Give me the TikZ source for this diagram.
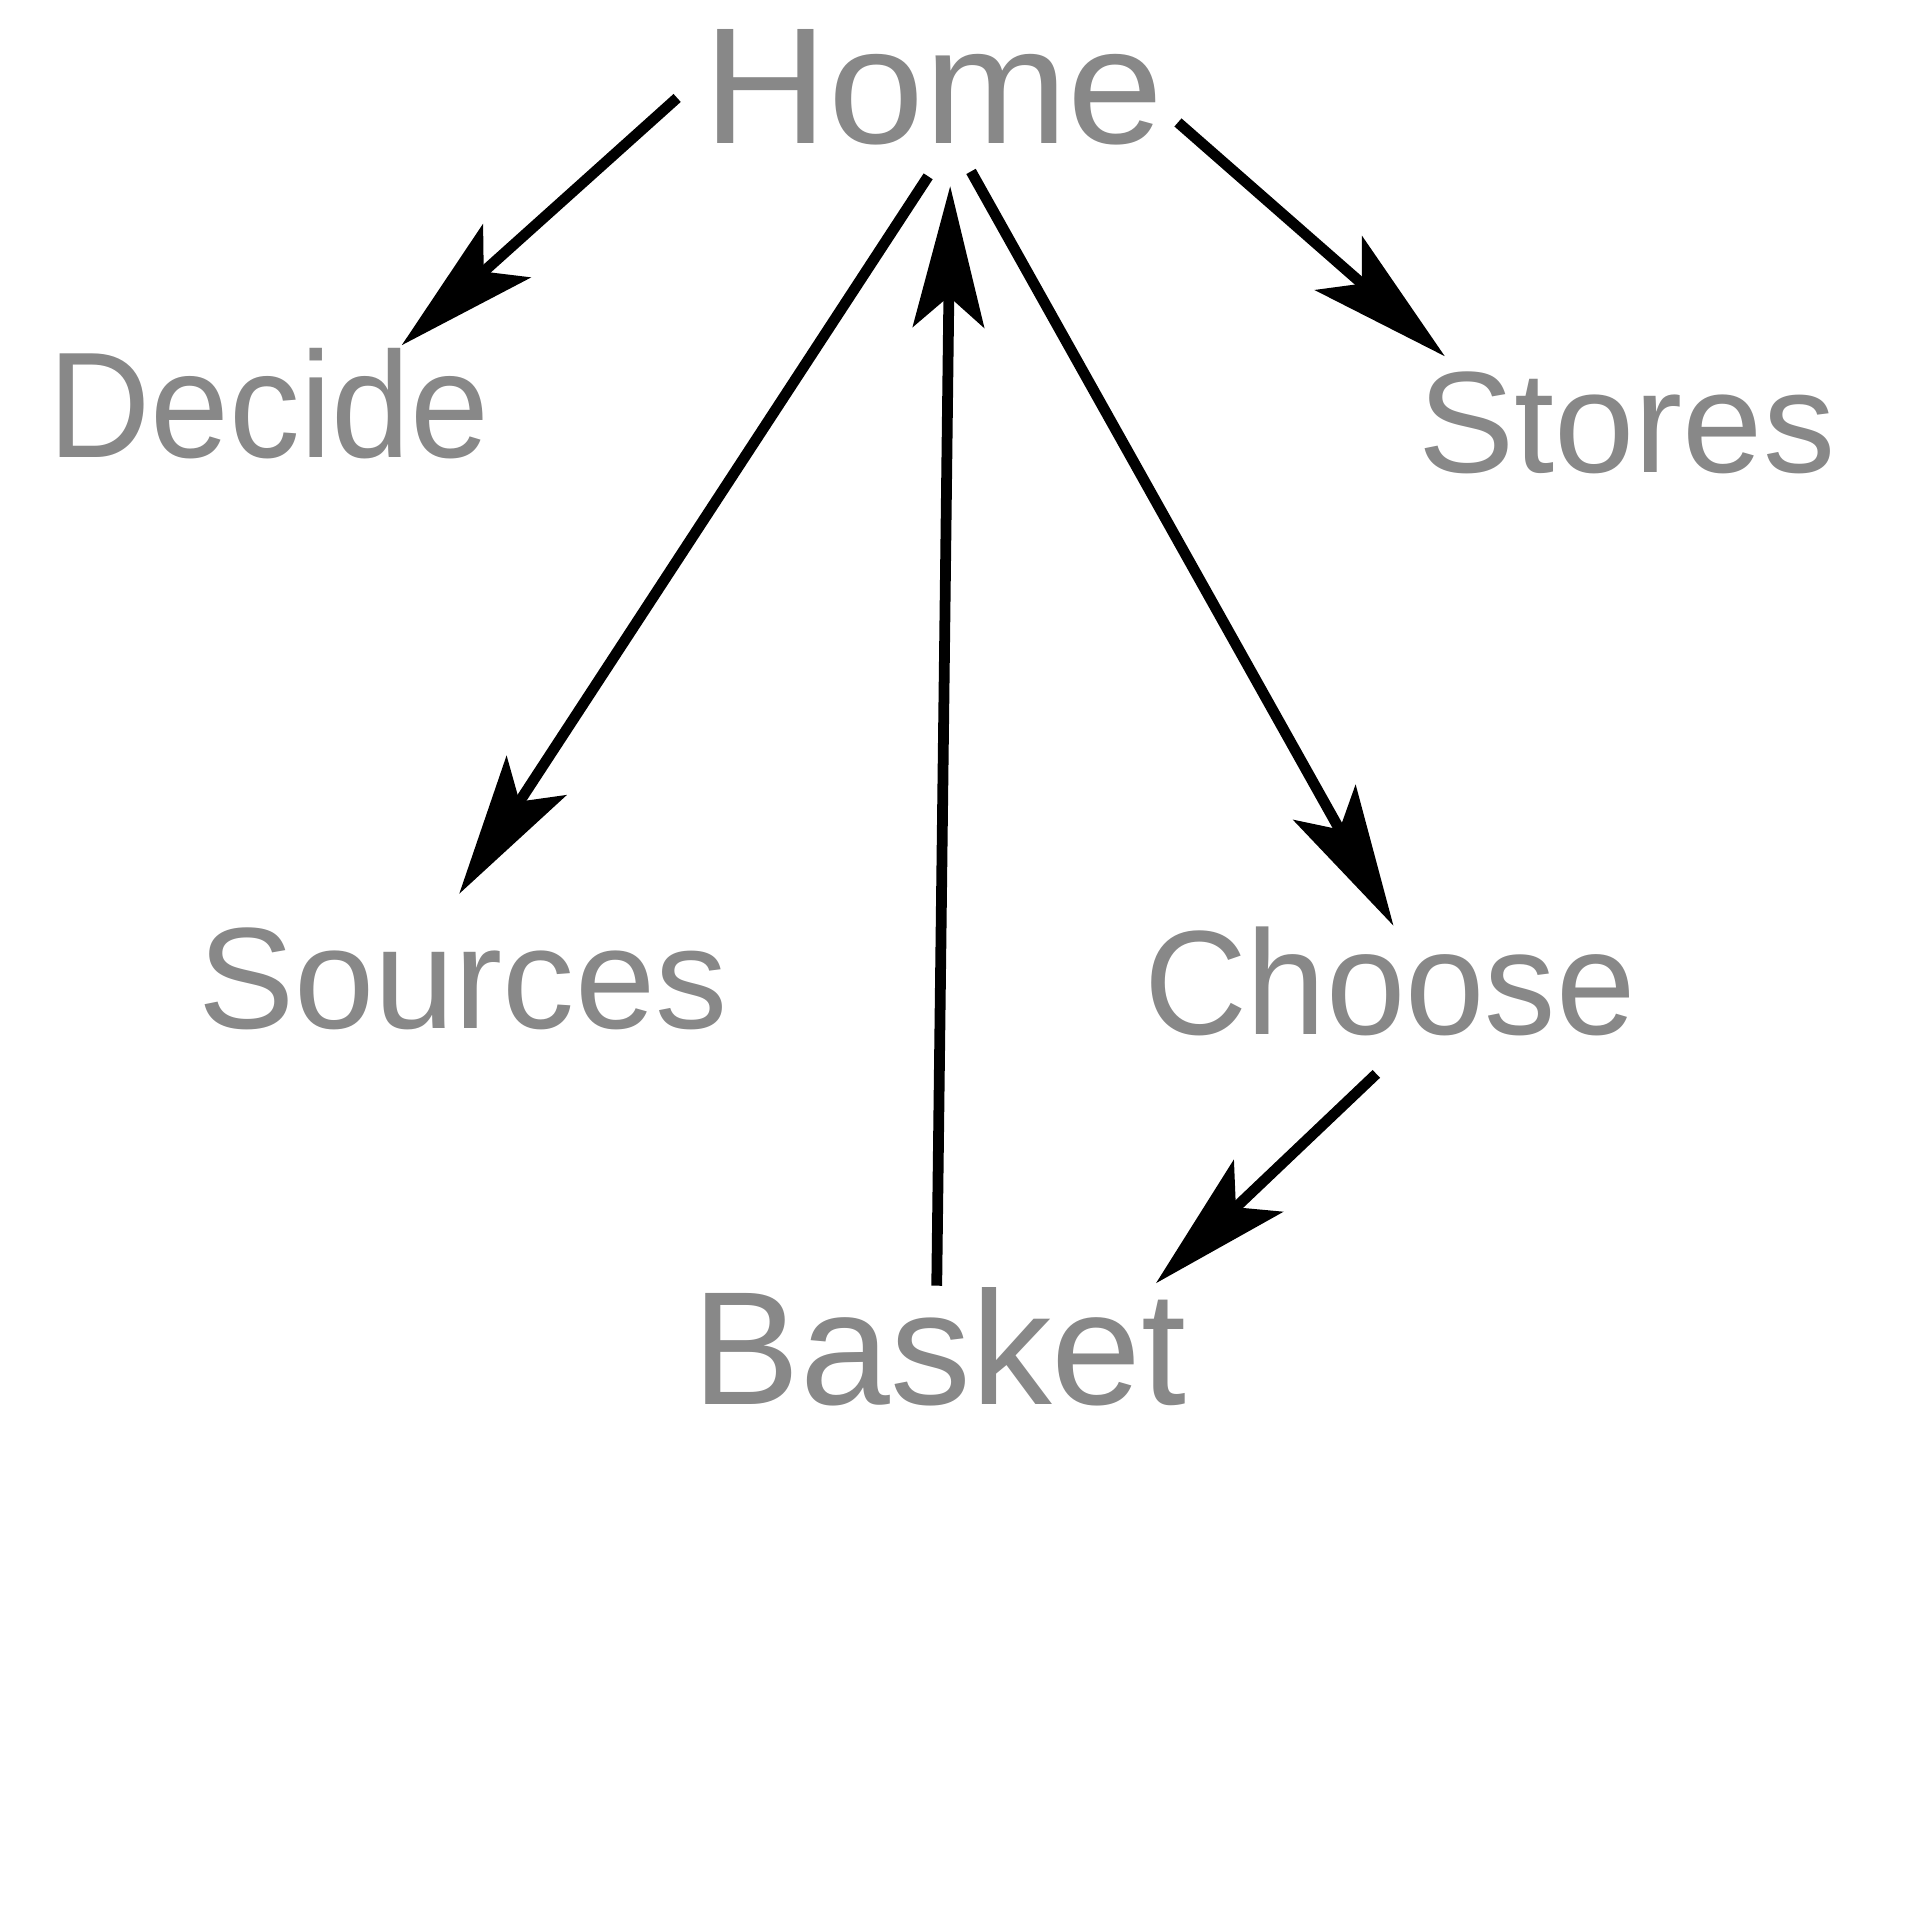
\documentclass[tikz,border=0pt]{standalone}
\usepackage{fontspec}
\setmainfont{Liberation Sans}
\usetikzlibrary{arrows.meta}
\definecolor{labelgray}{HTML}{888888}

\begin{document}
\begin{tikzpicture}[x=0.01cm,y=0.01cm,
   lbl/.style={text=labelgray,inner sep=0pt,anchor=base},
   arr/.style={line width=2.5pt,-{Stealth[length=1.15cm,width=0.58cm,inset=0.25cm]}}]
   \useasboundingbox (0,0) rectangle (1568,1568);
   % labels
   \node[lbl,xscale=1.04,font=\fontsize{38.5}{40}\selectfont] (home) at (762.5,1451) {Home};
   \node[lbl,xscale=0.94,font=\fontsize{35}{37}\selectfont] (decide) at (219.5,1194) {Decide};
   \node[lbl,font=\fontsize{33.5}{35}\selectfont] (stores) at (1328.5,1182) {Stores};
   \node[lbl,font=\fontsize{33.5}{35}\selectfont] (sources) at (378,728) {Sources};
   \node[lbl,xscale=0.96,font=\fontsize{34.5}{36}\selectfont] (choose) at (1135,723) {Choose};
   \node[lbl,font=\fontsize{37.5}{39}\selectfont] (basket) at (767.5,421) {Basket};
   % arrows
   \draw[arr] ([shift={(-209.5,37)}]home.base) -- ([shift={(108.5,92)}]decide.base);
   \draw[arr] ([shift={(199.5,17)}]home.base) -- ([shift={(-148.5,95)}]stores.base);
   \draw[arr] ([shift={(-4.5,-27)}]home.base) -- ([shift={(-3,110)}]sources.base);
   \draw[arr] ([shift={(30.5,-23)}]home.base) -- ([shift={(3,89)}]choose.base);
   \draw[arr] ([shift={(-2.5,97)}]basket.base) -- ([shift={(13.5,-35)}]home.base);
   \draw[arr] ([shift={(-11,-32)}]choose.base) -- ([shift={(176.5,99)}]basket.base);
\end{tikzpicture}
\end{document}
